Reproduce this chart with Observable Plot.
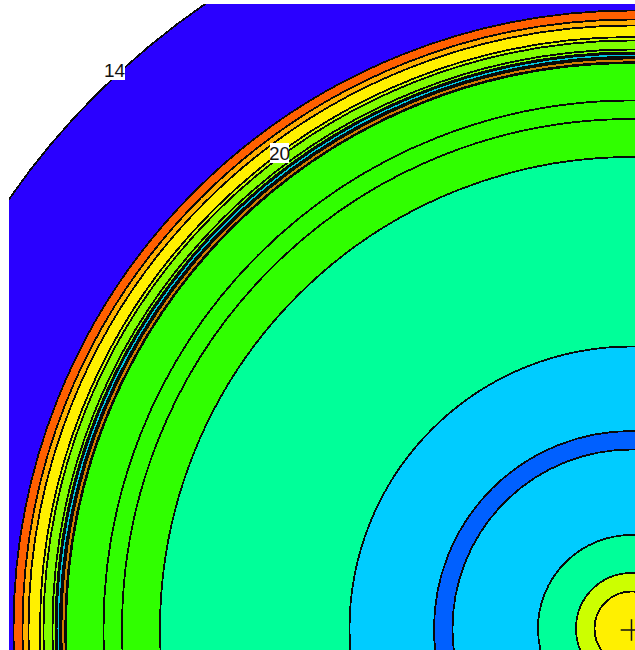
<!DOCTYPE html>
<html><head><meta charset="utf-8">
<style>html,body{margin:0;padding:0;background:#fff}svg{display:block}</style>
<script src="https://cdn.jsdelivr.net/npm/d3@7"></script>
<script src="https://cdn.jsdelivr.net/npm/@observablehq/plot@0.6"></script>
</head><body><div id="chart"></div>
<script>
const outerRadius = [756, 618, 609, 603, 591.5, 588, 579, 576];
const outerColor = ["#2a00ff","#ff6000","#ffb000","#fff000","#ccff00","#80ff00","#80ff00","#0a0a0a"];
const bandRadius = [574, 572.6, 569.2, 567.2];
const bandColor = ["#00c8e0","#0a0a0a","#d08000","#0a0a0a"];
const innerRadius = [565.5, 528, 509.5, 471.5, 282, 197.5, 179, 93.5, 55.5, 37];
const innerColor = ["#30ff00","#30ff00","#30ff00","#00ff99","#00ccff","#0060ff","#00ccff","#00ff99","#ccff00","#fff000"];
const toRings = (radii, colors) => radii.map((r, i) => ({r, color: colors[i], x: 0, y: 0}));

const labelText = ["14", "20"];
const labelX = [-517, -352];
const labelY = [558, 475];
const boxX1 = [-526, -361];
const boxX2 = [-506, -342];
const boxY1 = [548, 465];
const boxY2 = [566, 485];
const labels = labelText.map((t, i) => ({t, x: labelX[i], y: labelY[i], x1: boxX1[i], x2: boxX2[i], y1: boxY1[i], y2: boxY2[i]}));
const crossX = [0], crossY = [-1.5];

const ringOptions = {x: "x", y: "y", r: "r", fill: "color", clip: true, sort: null, shapeRendering: "crispEdges"};
const plot = Plot.plot({
  width: 635, height: 650,
  marginLeft: 9, marginTop: 4, marginRight: 0, marginBottom: 0,
  x: {domain: [-622, 4], axis: null},
  y: {domain: [-22, 624], axis: null},
  r: {type: "linear", domain: [0, 756], range: [0, 756]},
  style: {background: "#fff"},
  marks: [
    Plot.dot(toRings(outerRadius, outerColor), {...ringOptions, stroke: "#0a0a0a", strokeWidth: 1.8}),
    Plot.dot(toRings(bandRadius, bandColor), {...ringOptions, stroke: "none"}),
    Plot.dot(toRings(innerRadius, innerColor), {...ringOptions, stroke: "#0a0a0a", strokeWidth: 1.8}),
    Plot.rect(labels, {x1: "x1", x2: "x2", y1: "y1", y2: "y2", fill: "#fff"}),
    Plot.text(labels, {x: "x", y: "y", text: "t", fontFamily: "Liberation Sans Narrow, Liberation Sans", fontSize: 19, fill: "#111"}),
    Plot.dot(crossX.map((x, i) => ({x, y: crossY[i]})), {x: "x", y: "y", symbol: "plus", r: 7, stroke: "#111", strokeWidth: 1.5})
  ]
});
document.getElementById("chart").append(plot);
</script></body></html>
